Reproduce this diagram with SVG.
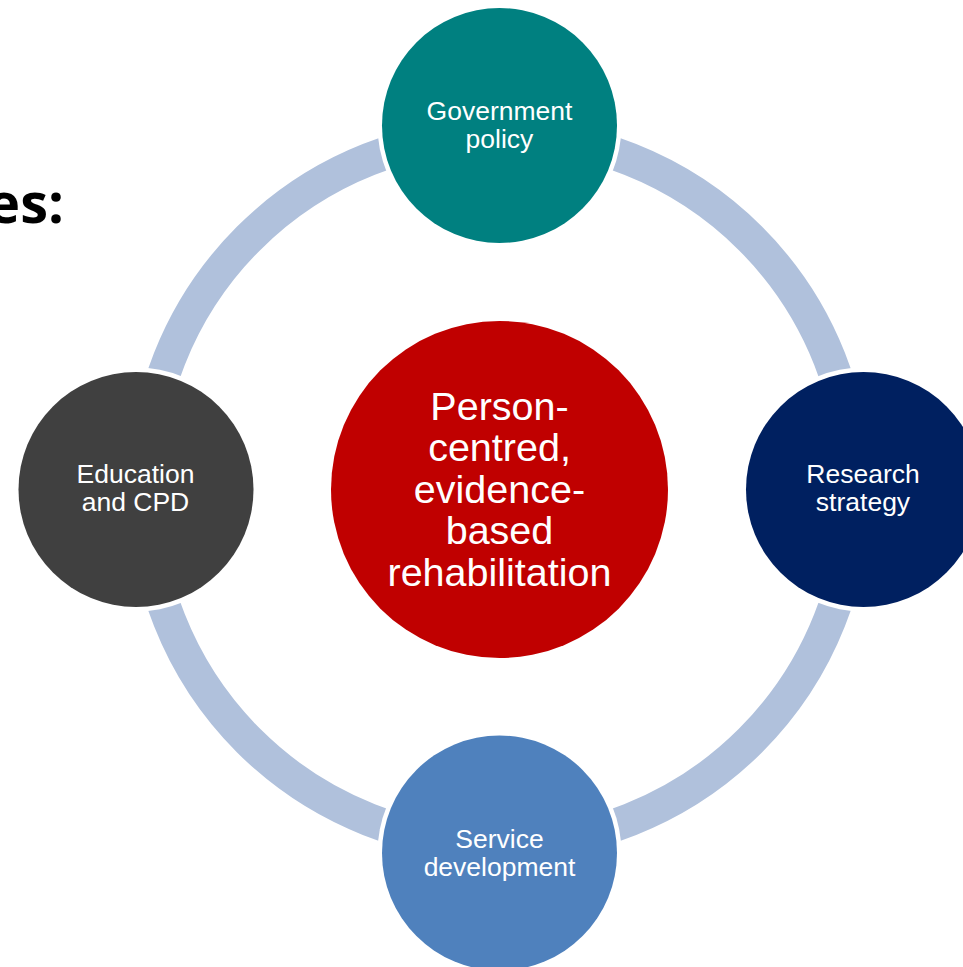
<svg xmlns="http://www.w3.org/2000/svg" width="963" height="967" viewBox="0 0 963 967">
<style>
.node-text{font-family:"Liberation Sans",Arial,sans-serif;font-size:26.5px;fill:#ffffff;text-anchor:middle}
.center-text{font-family:"Liberation Sans",Arial,sans-serif;font-size:39.5px;fill:#ffffff;text-anchor:middle}
.halo{fill:#ffffff}
</style>
<rect x="0" y="0" width="963" height="967" fill="#ffffff"/>
<text x="64" y="223" font-family="'Open Sans','Liberation Sans',sans-serif" font-weight="bold" font-size="56" fill="#000000" text-anchor="end">es:</text>
<g id="connectors">
<circle cx="499.5" cy="489.5" r="355" fill="none" stroke="#B0C1DC" stroke-width="33"/>
</g>
<g id="node-center">
<circle cx="499.5" cy="489.5" r="168.5" fill="#C00000"/>
<text class="center-text"><tspan x="499.5" y="419.5">Person-</tspan><tspan x="499.5" y="461">centred,</tspan><tspan x="499.5" y="502.5">evidence-</tspan><tspan x="499.5" y="544">based</tspan><tspan x="499.5" y="585.5">rehabilitation</tspan></text>
</g>
<g id="node-government">
<circle class="halo" cx="499.5" cy="125.5" r="122"/>
<circle cx="499.5" cy="125.5" r="117.5" fill="#008080"/>
<text class="node-text"><tspan x="499.5" y="120">Government</tspan><tspan x="499.5" y="148">policy</tspan></text>
</g>
<g id="node-research">
<circle class="halo" cx="863.5" cy="489.5" r="122"/>
<circle cx="863.5" cy="489.5" r="117.5" fill="#002060"/>
<text class="node-text"><tspan x="863" y="483">Research</tspan><tspan x="863" y="511">strategy</tspan></text>
</g>
<g id="node-service">
<circle class="halo" cx="499.5" cy="853" r="122"/>
<circle cx="499.5" cy="853" r="117.5" fill="#4F81BD"/>
<text class="node-text"><tspan x="499.5" y="848">Service</tspan><tspan x="499.5" y="876">development</tspan></text>
</g>
<g id="node-education">
<circle class="halo" cx="136" cy="489.5" r="122"/>
<circle cx="136" cy="489.5" r="117.5" fill="#404040"/>
<text class="node-text"><tspan x="135.5" y="483">Education</tspan><tspan x="135.5" y="511">and CPD</tspan></text>
</g>
</svg>
